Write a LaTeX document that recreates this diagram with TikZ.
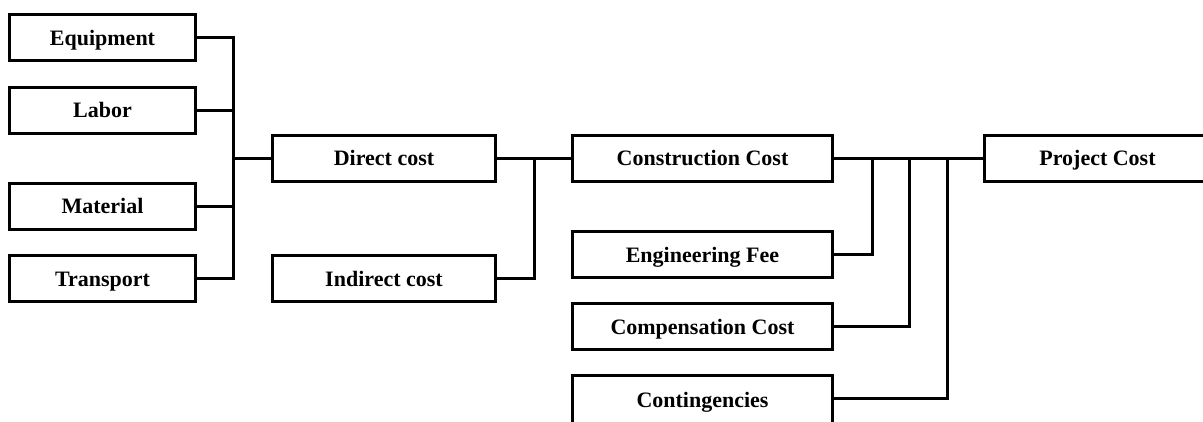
\documentclass[tikz,border=0pt]{standalone}
\usepackage{fontspec}
\setmainfont{Liberation Serif}
\begin{document}
\begin{tikzpicture}[x=1pt,y=-1pt,
  box/.style={draw=black, line width=3pt, fill=white, rectangle, inner sep=0pt,
    minimum height=46pt, text height=15pt, text depth=0pt,
    font=\fontsize{22}{26}\selectfont\bfseries},
  lbox/.style={box, minimum width=186pt},
  mbox/.style={box, minimum width=223pt},
  cbox/.style={box, minimum width=260pt},
  conn/.style={draw=black, line width=3pt, line join=miter}]
\useasboundingbox (0,0) rectangle (1203,421);
\fill[white] (0,0) rectangle (1203,421);
% left column
\node[lbox] (equip) at (102.5,37.5) {Equipment};
\node[lbox] (labor) at (102.5,110) {Labor};
\node[lbox] (mat) at (102.5,206) {Material};
\node[lbox] (trans) at (102.5,278.5) {Transport};
% second column
\node[mbox] (direct) at (384,158) {Direct cost};
\node[mbox] (indirect) at (384,278.5) {Indirect cost};
% third column
\node[cbox] (constr) at (702.5,158) {Construction Cost};
\node[cbox] (eng) at (702.5,254.5) {Engineering Fee};
\node[cbox] (comp) at (702.5,326.5) {Compensation Cost};
\node[cbox, minimum height=48pt] (cont) at (702.5,399.5) {Contingencies};
% project
\node[box, minimum width=240pt] (proj) at (1104.5,158) {\hspace*{-14pt}Project Cost};
% junctions
\coordinate (j1) at (233,158);
\coordinate (j2) at (534,158);
\coordinate (j3) at (872,158);
\coordinate (j4) at (909,158);
\coordinate (j5) at (947,158);
\coordinate (c5) at (834,398);
% connectors
\draw[conn] (equip.east) -- (equip.east -| j1) -- (trans.east -| j1) -- (trans.east);
\draw[conn] (labor.east) -- (labor.east -| j1);
\draw[conn] (mat.east) -- (mat.east -| j1);
\draw[conn] (j1) -- (direct.west);
\draw[conn] (direct.east) -- (constr.west);
\draw[conn] (indirect.east) -| (j2);
\draw[conn] (constr.east) -- (proj.west);
\draw[conn] (eng.east) -| (j3);
\draw[conn] (comp.east) -| (j4);
\draw[conn] (c5 -| cont.east) -| (j5);
\end{tikzpicture}
\end{document}
